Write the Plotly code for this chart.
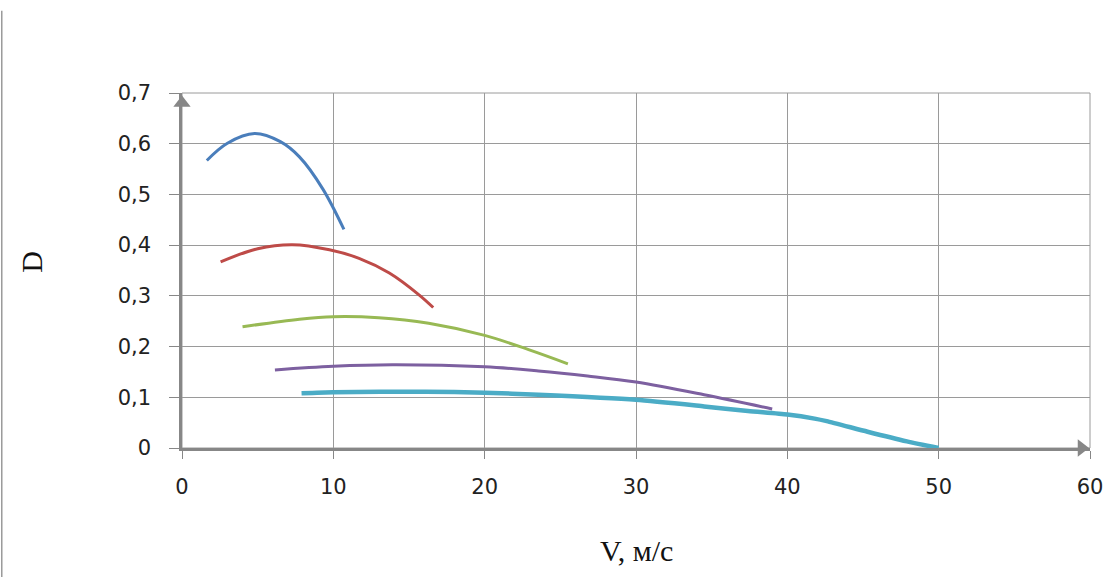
import plotly.graph_objects as go

# ---- data ----
blue_x = [1.64, 3.0, 4.8, 6.5, 7.76, 9.3, 10.7]
blue_y = [0.567, 0.601, 0.620, 0.604, 0.574, 0.511, 0.431]

red_x = [2.55, 5.0, 7.3, 9.74, 11.7, 13.7, 15.66, 16.6]
red_y = [0.367, 0.393, 0.401, 0.391, 0.374, 0.345, 0.302, 0.277]

green_x = [4.0, 7.76, 10.0, 13.0, 16.3, 20.0, 22.9, 25.5]
green_y = [0.239, 0.254, 0.259, 0.257, 0.246, 0.222, 0.194, 0.166]

purple_x = [6.14, 10.0, 13.9, 20.0, 23.55, 26.8, 30.0, 34.5, 39.0]
purple_y = [0.154, 0.161, 0.164, 0.160, 0.152, 0.142, 0.130, 0.105, 0.077]

cyan_x = [7.9, 10.0, 16.1, 20.0, 23.55, 30.0, 34.5, 37.4, 40.0, 41.8, 42.6, 45.3, 47.9, 50.0]
cyan_y = [0.108, 0.110, 0.111, 0.109, 0.105, 0.095, 0.082, 0.073, 0.066, 0.058, 0.053, 0.032, 0.013, 0.0]

x_tickvals = [0, 10, 20, 30, 40, 50, 60]
x_ticktext = ["0", "10", "20", "30", "40", "50", "60"]
y_tickvals = [0, 0.1, 0.2, 0.3, 0.4, 0.5, 0.6, 0.7]
y_ticktext = ["0", "0,1", "0,2", "0,3", "0,4", "0,5", "0,6", "0,7"]

x_title = "V, м/с"
y_title = "D"

series = [
    (blue_x, blue_y, "#4a7ebb", 3, 1.0),
    (red_x, red_y, "#be4b48", 3, 1.0),
    (green_x, green_y, "#98b954", 3, 1.0),
    (purple_x, purple_y, "#7d60a0", 3, 1.0),
    (cyan_x, cyan_y, "#4bacc6", 4.5, 0.6),
]

GRID = "#9a9a9a"
AXIS = "#878787"
TICKFONT = dict(family="DejaVu Sans", size=21, color="#222222")

fig = go.Figure()
for xs, ys, col, w, sm in series:
    fig.add_trace(go.Scatter(x=xs, y=ys, mode="lines",
                             line=dict(color=col, width=w, shape="spline", smoothing=sm),
                             showlegend=False, hoverinfo="skip"))

# arrow heads at axis ends
fig.add_trace(go.Scatter(x=[0], y=[0.6805], mode="markers",
                         marker=dict(symbol="triangle-up", size=15, color=AXIS),
                         cliponaxis=False, showlegend=False, hoverinfo="skip"))
fig.add_trace(go.Scatter(x=[59.44], y=[0], mode="markers",
                         marker=dict(symbol="triangle-right", size=15, color=AXIS),
                         cliponaxis=False, showlegend=False, hoverinfo="skip"))

fig.update_xaxes(range=[0, 60], tickvals=x_tickvals, ticktext=x_ticktext,
                 showgrid=True, gridcolor=GRID, gridwidth=1,
                 showline=True, linecolor=AXIS, linewidth=2.5,
                 ticks="outside", ticklen=8, tickcolor=AXIS, tickwidth=1,
                 tickfont=TICKFONT, ticklabelstandoff=10, zeroline=False)
fig.update_yaxes(range=[0, 0.7], tickvals=y_tickvals, ticktext=y_ticktext,
                 showgrid=True, gridcolor=GRID, gridwidth=1,
                 showline=True, linecolor=AXIS, linewidth=2.5,
                 ticks="outside", ticklen=10, tickcolor=AXIS, tickwidth=1,
                 tickfont=TICKFONT, ticklabelstandoff=14, zeroline=False)

fig.update_layout(
    width=1115, height=577,
    margin=dict(l=182, r=21, t=93, b=129),
    paper_bgcolor="white", plot_bgcolor="white",
    shapes=[
        dict(type="rect", xref="paper", yref="paper", x0=0, x1=1, y0=0, y1=1,
             line=dict(color=GRID, width=1), layer="below"),
        dict(type="line", xref="paper", yref="paper", x0=-0.1985, x1=-0.1985,
             y0=1.232, y1=-0.37, line=dict(color="#9a9a9a", width=1.5)),
    ],
    annotations=[
        dict(text=x_title, xref="paper", yref="paper", x=0.5, y=-0.289,
             xanchor="center", yanchor="middle", showarrow=False,
             font=dict(family="Liberation Serif", size=30, color="#111111")),
        dict(text=y_title, xref="paper", yref="paper", x=-0.1667, y=0.5236,
             xanchor="center", yanchor="middle", showarrow=False, textangle=-90,
             font=dict(family="Liberation Serif", size=30, color="#111111")),
    ],
)

fig.write_html("out.html")
